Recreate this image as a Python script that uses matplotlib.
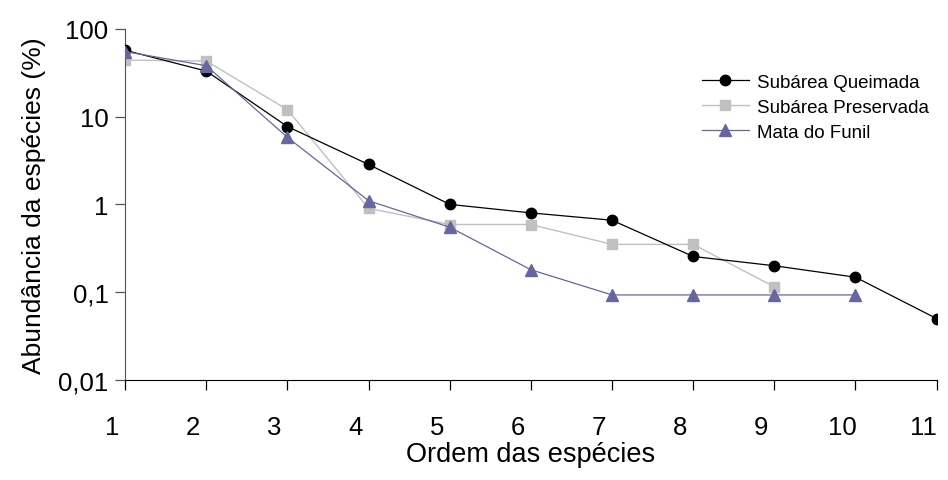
import matplotlib

matplotlib.use("Agg")
import matplotlib.pyplot as plt
import matplotlib.transforms as mtransforms
from matplotlib.ticker import FixedLocator, FixedFormatter, NullLocator

plt.rcParams["font.family"] = ["Liberation Sans", "DejaVu Sans"]

# species rank order
ordem_queimada = [1, 2, 3, 4, 5, 6, 7, 8, 9, 10, 11]
abund_queimada = [57, 33, 7.7, 2.85, 1.0, 0.8, 0.66, 0.255, 0.2, 0.148, 0.05]

ordem_preservada = [1, 2, 3, 4, 5, 6, 7, 8, 9]
abund_preservada = [44, 43, 12, 0.9, 0.59, 0.59, 0.35, 0.35, 0.115]

ordem_funil = [1, 2, 3, 4, 5, 6, 7, 8, 9, 10]
abund_funil = [55, 38, 5.8, 1.1, 0.55, 0.18, 0.093, 0.093, 0.093, 0.093]

y_ticks = [0.01, 0.1, 1, 10, 100]
y_labels = ["0,01", "0,1", "1", "10", "100"]
x_ticks = list(range(1, 12))

fig = plt.figure(figsize=(9.48, 4.81), dpi=100)
ax = fig.add_axes([0.132, 0.208, 0.856, 0.730])

ax.plot(ordem_queimada, abund_queimada, color="black", lw=0.9, marker="o",
        markersize=7.5, markerfacecolor="black", markeredgecolor="black",
        label="Subárea Queimada", zorder=3)
ax.plot(ordem_preservada, abund_preservada, color="#c0c0c0", lw=1.0, marker="s",
        markersize=7, markerfacecolor="#c0c0c0", markeredgecolor="#c0c0c0",
        label="Subárea Preservada", zorder=2)
ax.plot(ordem_funil, abund_funil, color="#6666a0", lw=0.9, marker="^",
        markersize=9, markerfacecolor="#6666a0", markeredgecolor="#6666a0",
        label="Mata do Funil", zorder=4)

ax.set_yscale("log")
ax.set_ylim(0.01, 100)
ax.set_xlim(1, 11)
ax.yaxis.set_major_locator(FixedLocator(y_ticks))
ax.yaxis.set_major_formatter(FixedFormatter(y_labels))
ax.yaxis.set_minor_locator(NullLocator())
ax.set_xticks(x_ticks)
ax.set_xticklabels([str(v) for v in x_ticks])

for side in ["top", "right"]:
    ax.spines[side].set_visible(False)
ax.spines["left"].set_color("#555555")
ax.spines["bottom"].set_color("black")
ax.tick_params(axis="both", direction="out", length=7, width=0.9, labelsize=18.5)
ax.tick_params(axis="y", colors="#555555", labelcolor="black", pad=5)
ax.tick_params(axis="x", pad=18)

# excel-style labels sit a bit left of their tick
offset = mtransforms.ScaledTranslation(-13 / 100, 0, fig.dpi_scale_trans)
for lbl in ax.get_xticklabels():
    lbl.set_transform(lbl.get_transform() + offset)

ax.set_xlabel("Ordem das espécies", fontsize=19.5, labelpad=2)
ax.set_ylabel("Abundância da espécies (%)", fontsize=19, labelpad=9)

ax.legend(loc="upper left", bbox_to_anchor=(0.69, 0.92), frameon=False,
          fontsize=13.5, handlelength=2.5, labelspacing=0.42, handletextpad=0.45)

fig.savefig("out.png", dpi=100)
